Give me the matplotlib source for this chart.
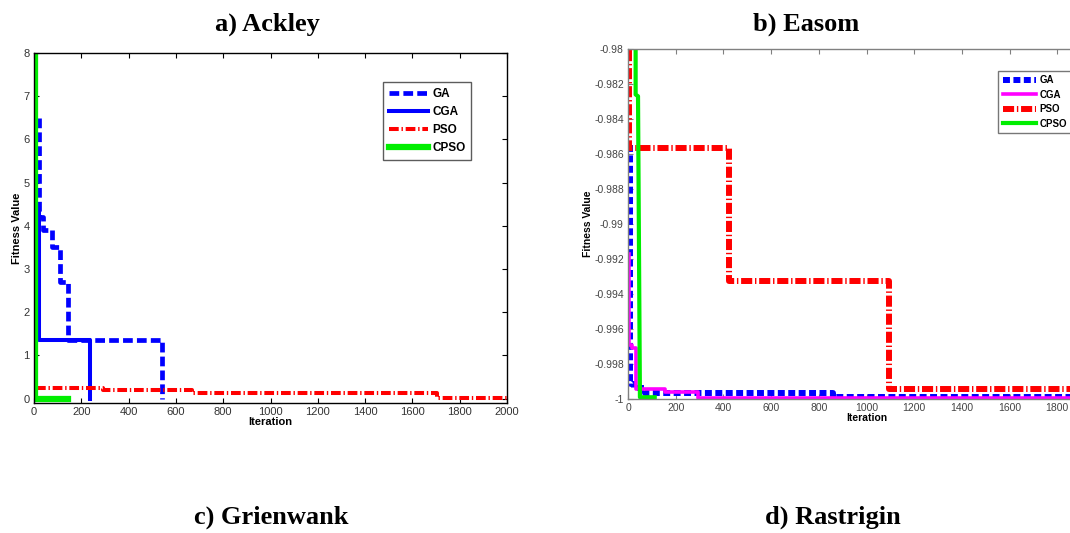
#!/usr/bin/env python3
import numpy as np
import matplotlib
matplotlib.use("Agg")
import matplotlib.pyplot as plt
from matplotlib.ticker import FuncFormatter

plt.rcParams['font.family'] = ['Liberation Sans', 'DejaVu Sans']
plt.rcParams['lines.scale_dashes'] = False

# a) Ackley, step curves (iteration, fitness)
ack_ga_x = [20, 20, 38, 76, 110, 145, 543]
ack_ga_y = [6.5, 4.2, 3.9, 3.5, 2.7, 1.35, 0.0]
ack_cga_x = [22, 22, 235]
ack_cga_y = [4.4, 1.35, 0.0]
ack_pso_x = [10, 290, 670, 1705, 2000]
ack_pso_y = [0.24, 0.19, 0.12, 0.02, 0.02]
ack_cpso_x = [5, 5, 145]
ack_cpso_y = [8.2, 0.0, 0.0]

# b) Easom
eas_ga_x = [7, 7, 12, 25, 70, 860, 2000]
eas_ga_y = [-0.9855, -0.9990, -0.99915, -0.99935, -0.99965, -0.9999, -0.9999]
eas_cga_x = [3, 3, 16, 32, 154, 293, 2000]
eas_cga_y = [-0.9917, -0.9969, -0.9971, -0.9994, -0.9996, -0.99995, -0.99995]
eas_pso_x = [5, 5, 425, 1095, 2000]
eas_pso_y = [-0.979, -0.98568, -0.99325, -0.99941, -0.99941]
eas_cpso_x = [32, 32, 42, 50, 112]
eas_cpso_y = [-0.979, -0.9826, -0.9827, -0.9999, -0.9999]

labels = ['GA', 'CGA', 'PSO', 'CPSO']
titles = ['a) Ackley', 'b) Easom', 'c) Grienwank', 'd) Rastrigin']

W, H = 1070, 533
fig = plt.figure(figsize=(W / 100, H / 100), dpi=100)


def px_axes(left, top, right, bottom):
    return fig.add_axes([left / W, 1 - bottom / H, (right - left) / W, (bottom - top) / H])


def style_axes(ax, edge, lab):
    for s in ax.spines.values():
        s.set_color(edge)
        s.set_linewidth(1.0)
    ax.tick_params(direction='in', length=3.5, width=0.8, top=True, right=True,
                   labelsize=8, colors=edge, labelcolor=lab, pad=3)
    ax.set_xlabel('Iteration', fontsize=8, fontweight='bold', labelpad=0)
    ax.set_ylabel('Fitness Value', fontsize=8, fontweight='bold', labelpad=1)


# ---- Ackley
ax1 = px_axes(34, 53, 507, 403)
ax1.plot(ack_ga_x, ack_ga_y, color='#0000ff', lw=3.4, dashes=(7, 3),
         drawstyle='steps-post', label=labels[0])
ax1.plot(ack_cga_x, ack_cga_y, color='#0000ff', lw=2.9,
         drawstyle='steps-post', label=labels[1])
ax1.plot(ack_pso_x, ack_pso_y, color='#ff0000', lw=2.9, dashes=(7, 2, 1, 2),
         drawstyle='steps-post', label=labels[2])
ax1.plot(ack_cpso_x, ack_cpso_y, color='#00ee00', lw=4.5, label=labels[3])
ax1.set_xlim(0, 2000)
ax1.set_ylim(-0.1, 8)
ax1.set_xticks(np.arange(0, 2001, 200))
ax1.set_yticks(np.arange(0, 9, 1))
style_axes(ax1, 'black', '#333333')
leg = ax1.legend(loc='upper left', bbox_to_anchor=(0.738, 0.917), borderaxespad=0,
                 fancybox=False, edgecolor='#333333', handlelength=3.3,
                 prop={'weight': 'bold', 'size': 8.5}, labelspacing=0.5,
                 handletextpad=0.35, borderpad=0.5)
leg.get_frame().set_linewidth(1.0)

# ---- Easom
ax2 = px_axes(628, 49, 1105, 399)
ax2.plot(eas_ga_x, eas_ga_y, color='#0000ff', lw=4.3, dashes=(5, 2.5),
         drawstyle='steps-post', label=labels[0])
ax2.plot(eas_cga_x, eas_cga_y, color='#ff00ff', lw=2.6,
         drawstyle='steps-post', label=labels[1])
ax2.plot(eas_pso_x, eas_pso_y, color='#ff0000', lw=4.3, dashes=(8, 2, 1, 2),
         drawstyle='steps-post', label=labels[2])
ax2.plot(eas_cpso_x, eas_cpso_y, color='#00ee00', lw=3.0, label=labels[3])
ax2.set_xlim(0, 2000)
ax2.set_ylim(-1.0, -0.98)
ax2.set_xticks(np.arange(0, 1801, 200))
ax2.set_yticks(np.linspace(-1.0, -0.98, 11))
ax2.yaxis.set_major_formatter(FuncFormatter(lambda v, p: f'{round(v, 3):g}'))
style_axes(ax2, '#808080', '#444444')
ax2.tick_params(labelsize=7.5)
ax2.xaxis.label.set_size(7.5)
ax2.yaxis.label.set_size(7.5)
leg2 = ax2.legend(loc='upper left', bbox_to_anchor=(0.776, 0.937), borderaxespad=0,
                  fancybox=False, edgecolor='#555555', handlelength=3.4,
                  prop={'weight': 'bold', 'size': 7}, labelspacing=0.45,
                  handletextpad=0.4, borderpad=0.45)
leg2.get_frame().set_linewidth(1.0)

# ---- panel titles
title_font = dict(family=['Liberation Serif', 'DejaVu Serif'], fontweight='bold', fontsize=19)
fig.text(267 / W, 1 - 31 / H, titles[0], ha='center', va='baseline', **title_font)
fig.text(806 / W, 1 - 31 / H, titles[1], ha='center', va='baseline', **title_font)
fig.text(271 / W, 1 - 524 / H, titles[2], ha='center', va='baseline', **title_font)
fig.text(833 / W, 1 - 524 / H, titles[3], ha='center', va='baseline', **title_font)

fig.savefig('out.png', dpi=100)
